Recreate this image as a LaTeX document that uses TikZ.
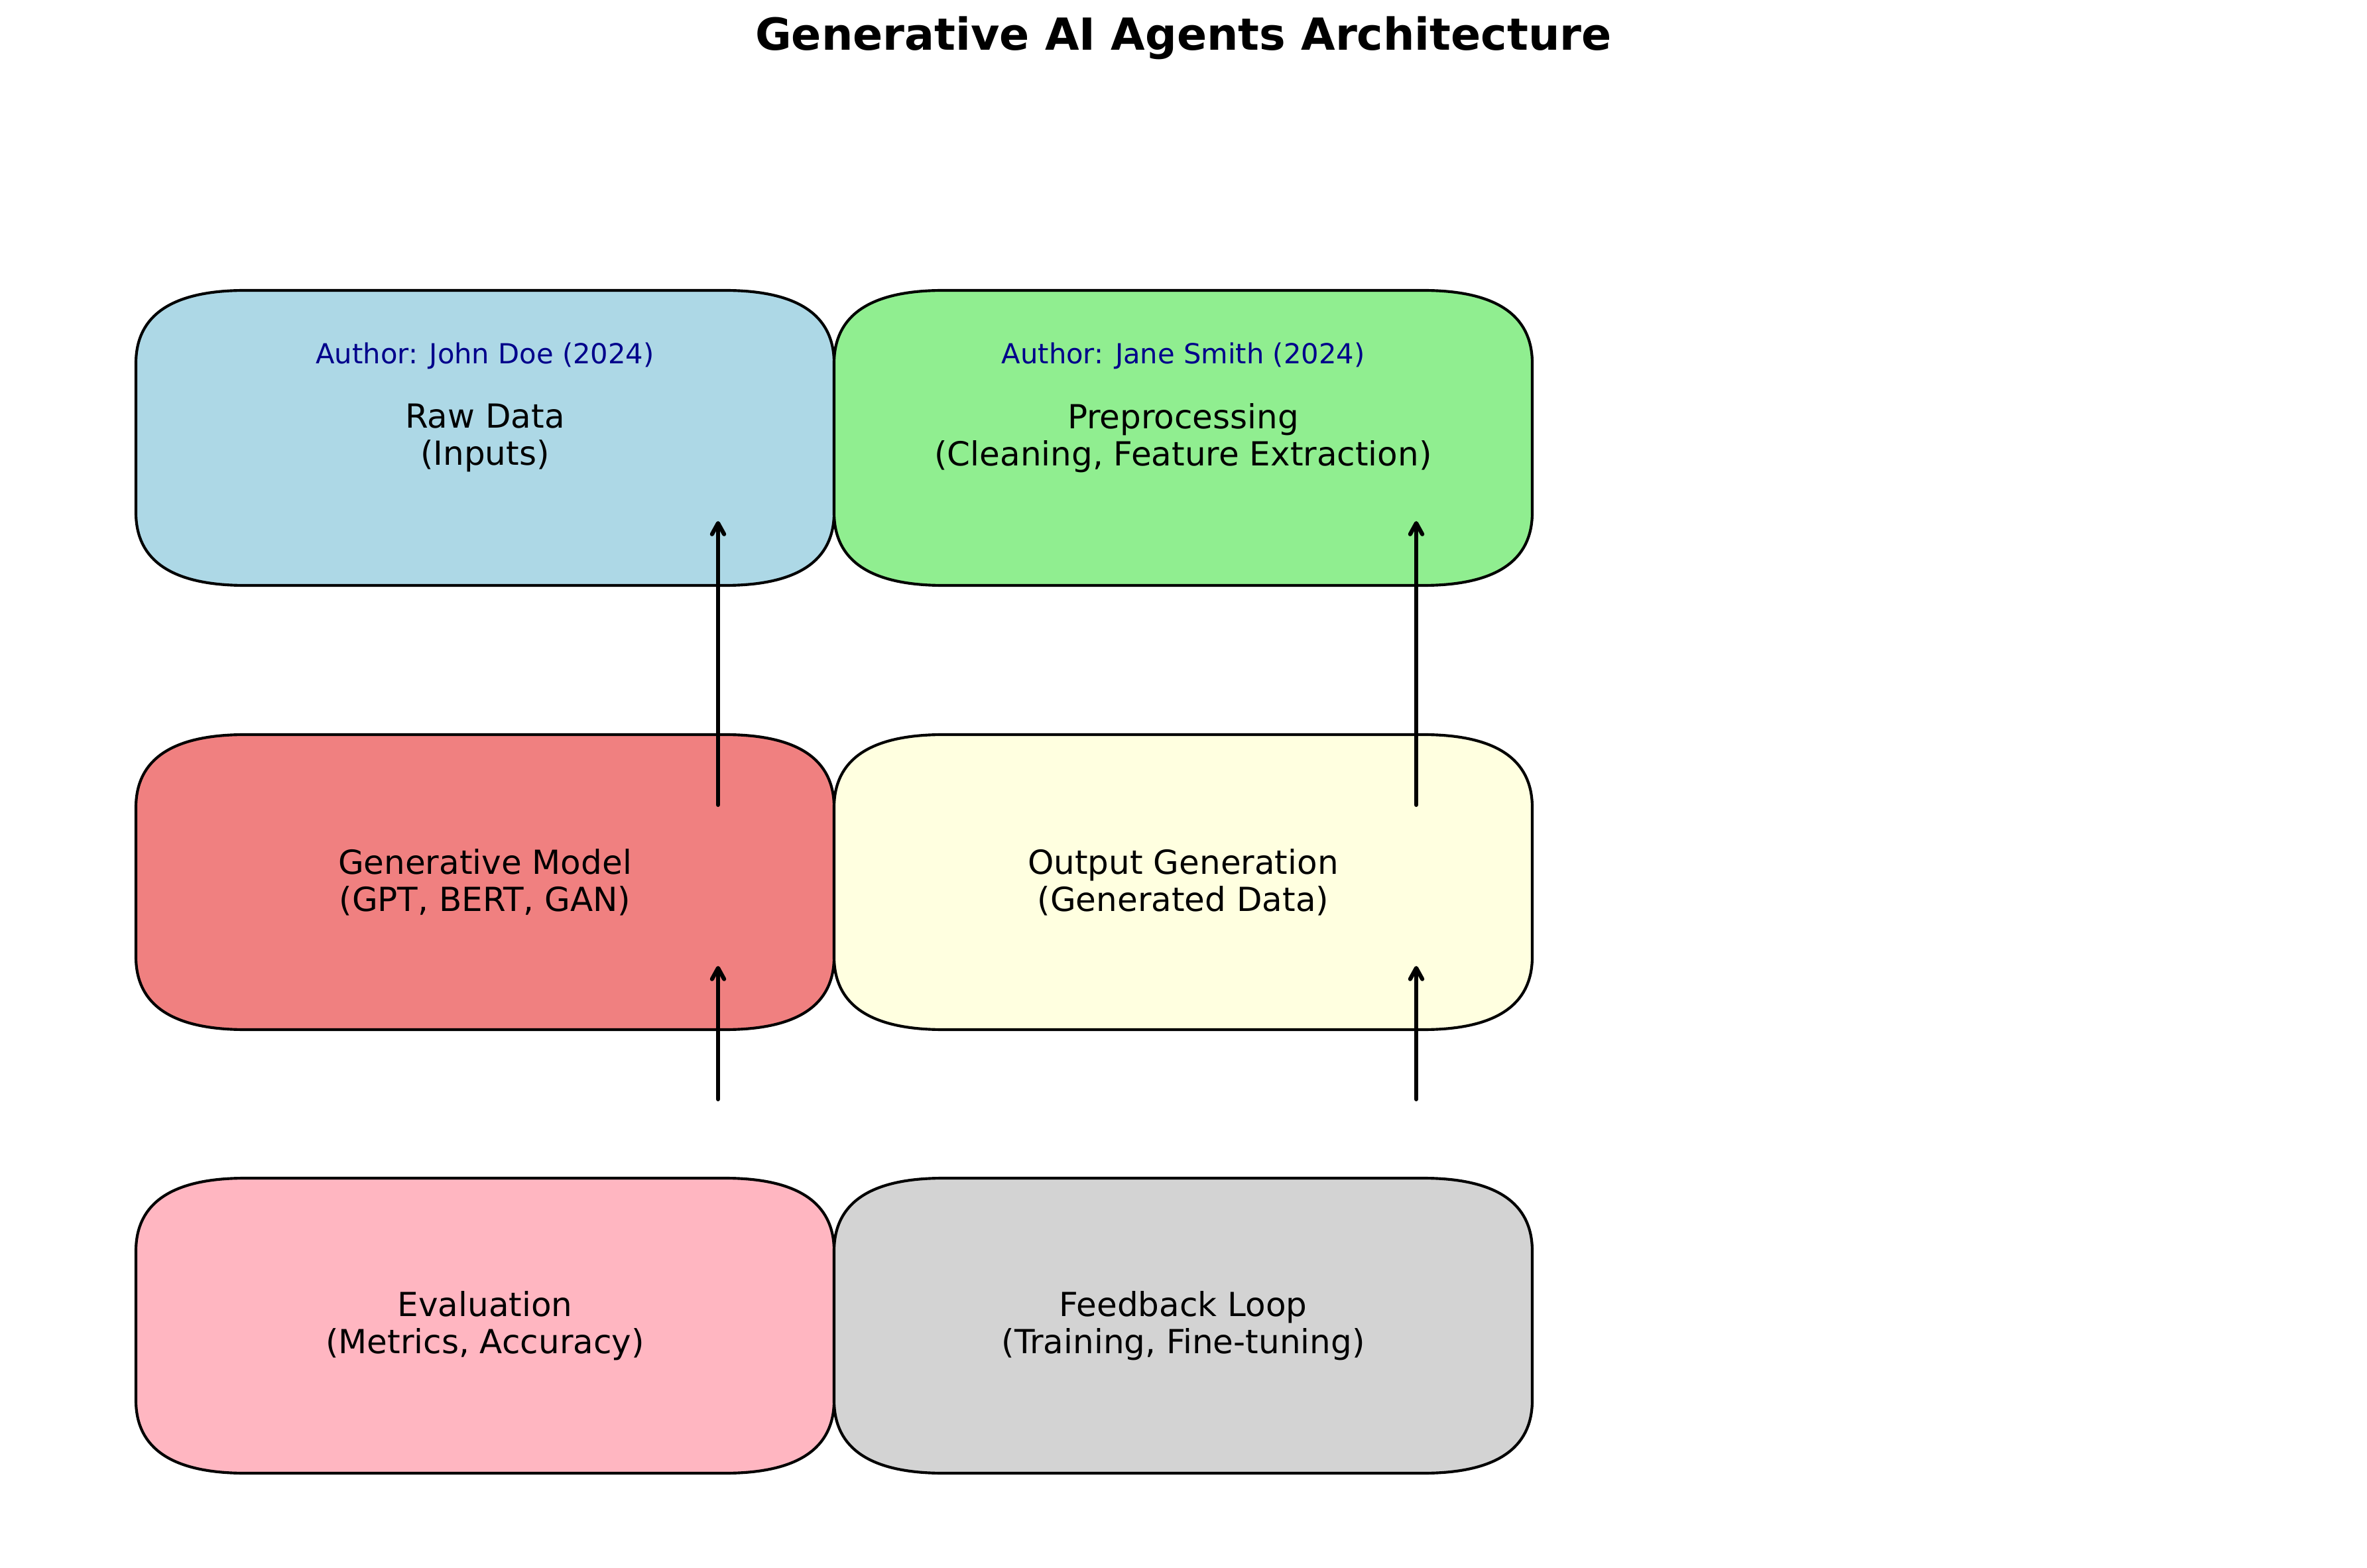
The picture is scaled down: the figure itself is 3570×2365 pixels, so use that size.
\documentclass[tikz,border=0pt]{standalone}
\usepackage{fontspec}
\setmainfont{DejaVu Sans}
\usetikzlibrary{arrows.meta}

\definecolor{rawblue}{HTML}{ADD8E6}
\definecolor{prepgreen}{HTML}{90EE90}
\definecolor{modelcoral}{HTML}{F08080}
\definecolor{outyellow}{HTML}{FFFFE0}
\definecolor{evalpink}{HTML}{FFB6C1}
\definecolor{loopgray}{HTML}{D3D3D3}
\definecolor{authorblue}{HTML}{00008B}

% stretched round box: name, centre x, centre y, fill, text
\newcommand{\gabox}[5]{%
  \draw[boxline,fill=#4] (#2-526.5,#3-112.5) .. controls +(0,-73) and +(-110,0) .. (#2-361.5,#3-222.5)
    -- (#2+361.5,#3-222.5) .. controls +(110,0) and +(0,-73) .. (#2+526.5,#3-112.5)
    -- (#2+526.5,#3+112.5) .. controls +(0,73) and +(110,0) .. (#2+361.5,#3+222.5)
    -- (#2-361.5,#3+222.5) .. controls +(-110,0) and +(0,73) .. (#2-526.5,#3+112.5) -- cycle;
  \node[boxtext] (#1) at (#2,#3) {#5};
}

\begin{document}
\begin{tikzpicture}[x=0.2409pt,y=-0.2409pt]

\tikzstyle{boxline} = [draw=black,line width=1pt]
\tikzstyle{boxtext} = [align=center,inner sep=0,font=\fontsize{12bp}{13.4bp}\selectfont]
\tikzstyle{authortext} = [text=authorblue,inner sep=0,font=\fontsize{10bp}{12bp}\selectfont]
\tikzstyle{flow} = [line width=1.5pt,line cap=round,-{Straight Barb[length=4pt,width=4.4pt,round]}]

\useasboundingbox (0,0) rectangle (3570,2365);

\node [font=\fontsize{16bp}{19bp}\selectfont\bfseries] (title) at (1785,57) {Generative AI Agents Architecture};

\gabox{raw}{731.5}{660.5}{rawblue}{Raw Data\\(Inputs)}
\gabox{prep}{1784.5}{660.5}{prepgreen}{Preprocessing\\(Cleaning, Feature Extraction)}
\gabox{model}{731.5}{1330.5}{modelcoral}{Generative Model\\(GPT, BERT, GAN)}
\gabox{output}{1784.5}{1330.5}{outyellow}{Output Generation\\(Generated Data)}
\gabox{eval}{731.5}{1999.5}{evalpink}{Evaluation\\(Metrics, Accuracy)}
\gabox{loop}{1784.5}{1999.5}{loopgray}{Feedback Loop\\(Training, Fine-tuning)}

\node [authortext] (rawauthor) at (731.5,537) {Author: John Doe (2024)};
\node [authortext] (prepauthor) at (1784.5,537) {Author: Jane Smith (2024)};

\coordinate (rawin) at (1083,786);
\coordinate (modelout) at (1083,1214);
\coordinate (modelin) at (1083,1457);
\coordinate (evalout) at (1083,1658);
\coordinate (prepin) at (2136,786);
\coordinate (outputout) at (2136,1214);
\coordinate (outputin) at (2136,1457);
\coordinate (loopout) at (2136,1658);

\draw [flow] (modelout) -- (rawin);
\draw [flow] (evalout) -- (modelin);
\draw [flow] (outputout) -- (prepin);
\draw [flow] (loopout) -- (outputin);

\end{tikzpicture}
\end{document}
